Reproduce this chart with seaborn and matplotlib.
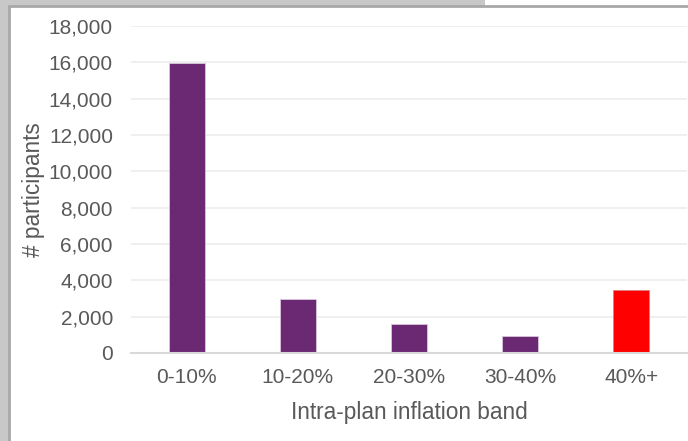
import matplotlib
matplotlib.use("Agg")
import matplotlib.pyplot as plt
import seaborn as sns
import pandas as pd
from matplotlib.patches import Rectangle
from matplotlib.lines import Line2D
from matplotlib.ticker import FuncFormatter, MultipleLocator

categories = ["0-10%", "10-20%", "20-30%", "30-40%", "40%+"]
participants = [15950, 2960, 1610, 950, 3470]
bar_colors = ["#6B2973", "#6B2973", "#6B2973", "#6B2973", "#FF0000"]
x_label = "Intra-plan inflation band"
y_label = "# participants"

sns.set_theme(style="white")
plt.rcParams["font.family"] = ["Liberation Sans", "DejaVu Sans"]

W, H = 688, 441
fig = plt.figure(figsize=(W / 100, H / 100), dpi=100)
fig.patch.set_facecolor("white")

def px(x0, y0, w, h, **kw):
    fig.patches.append(Rectangle((x0 / W, 1 - (y0 + h) / H), w / W, h / H,
                                 transform=fig.transFigure, **kw))

# window frame (screenshot border)
px(0, 0, 9, H, facecolor="#c8c8c8", edgecolor="none")
px(0, 0, 485, 6, facecolor="#c8c8c8", edgecolor="none")
fig.lines.append(Line2D([9 / W, 1], [1 - 6 / H, 1 - 6 / H], transform=fig.transFigure,
                        color="#a8a8a8", lw=2))
fig.lines.append(Line2D([9 / W, 9 / W], [0, 1 - 6 / H], transform=fig.transFigure,
                        color="#a8a8a8", lw=2))

ax = fig.add_axes([131 / W, 1 - 353 / H, (687 - 131) / W, (353 - 26) / H])
df = pd.DataFrame({"band": categories, "n": participants})
sns.barplot(data=df, x="band", y="n", hue="band", palette=bar_colors, legend=False,
            width=0.324, ax=ax, edgecolor="#d8c8dc", linewidth=0.6, saturation=1)
ax.patches[-1].set_edgecolor("#e08080")

ax.set_ylim(0, 18000)
ax.set_xlim(-0.5, 4.5)
ax.yaxis.set_major_locator(MultipleLocator(2000))
ax.yaxis.set_major_formatter(FuncFormatter(lambda v, p: f"{int(v):,}"))
ax.grid(axis="y", color="#ececec", lw=1.2)
ax.set_axisbelow(True)
for s in ["top", "right", "left"]:
    ax.spines[s].set_visible(False)
ax.spines["bottom"].set_color("#d9d9d9")
ax.spines["bottom"].set_linewidth(1.5)

text_col = "#595959"
ax.tick_params(axis="y", length=0, pad=13, labelsize=15, labelcolor=text_col)
ax.tick_params(axis="x", length=0, pad=11, labelsize=15, labelcolor=text_col)
ax.set_xlabel(x_label, fontsize=16.3, color=text_col, labelpad=10)
ax.set_ylabel(y_label, fontsize=16.3, color=text_col, labelpad=3)

fig.savefig("out.png", dpi=100)
